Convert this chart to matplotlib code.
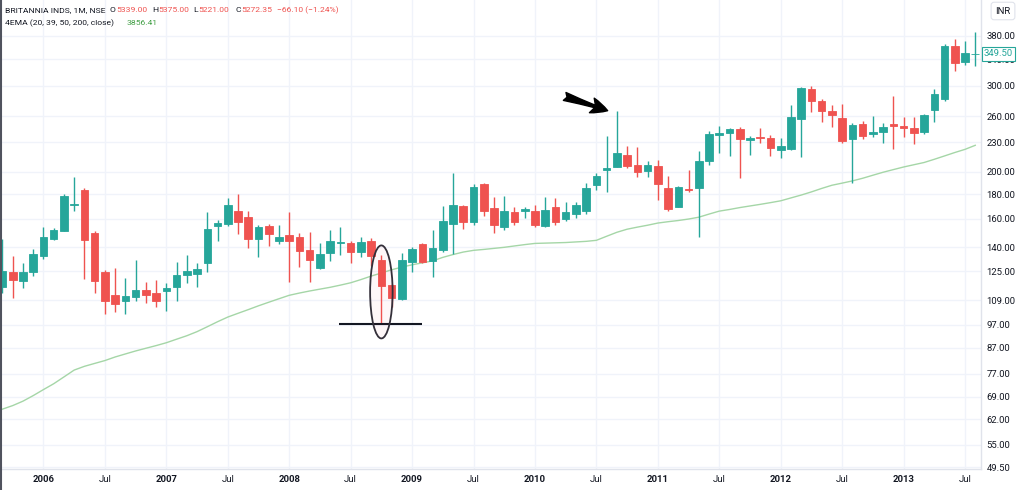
import numpy as np
import pandas as pd
import matplotlib

matplotlib.use('Agg')  # no display here
import matplotlib.pyplot as plt
from matplotlib.patches import Ellipse
from matplotlib.transforms import ScaledTranslation, blended_transform_factory
from matplotlib.ticker import FixedLocator, NullLocator, NullFormatter

plt.rcParams['font.family'] = ['Roboto', 'DejaVu Sans']

# monthly candles, Sep 2005 .. Aug 2013
months = pd.date_range('2005-09-01', periods=96, freq='MS')

opens = [116.1, 124.2, 119.4, 124.6, 134.1, 145.7, 151.3, 170.5, 183.5, 149.6, 124.2, 111.6,
         108.7, 110.7, 114.1, 112.9, 113.6, 115.9, 122.5, 123.6, 129.6, 154.7, 155.9, 166.4,
         161.1, 145.5, 154.9, 144.3, 148.6, 146.9, 137.9, 127.0, 135.9, 143.0, 143.0, 137.0,
         143.9, 131.8, 116.9, 109.5, 130.7, 142.2, 131.1, 138.2, 156.3, 170.3, 157.8, 188.4,
         168.2, 153.7, 165.4, 166.4, 166.4, 154.9, 169.5, 159.9, 163.5, 166.4, 187.8, 201.9,
         204.7, 216.8, 206.4, 200.4, 205.5, 185.5, 169.5, 184.4, 184.9, 210.4, 238.4, 239.9,
         244.7, 232.1, 235.4, 235.0, 221.7, 222.4, 256.3, 295.8, 279.5, 266.9, 257.6, 233.5,
         250.3, 238.6, 241.0, 250.3, 248.3, 245.6, 241.7, 267.8, 282.2, 362.5, 335.6, 349.0]
highs = [145.3, 134.2, 130.0, 138.8, 153.9, 153.1, 179.7, 195.3, 185.2, 151.1, 125.6, 127.0,
         120.8, 131.8, 118.9, 119.7, 118.0, 130.4, 134.6, 129.8, 165.4, 159.1, 176.5, 179.7,
         166.4, 155.4, 155.9, 155.4, 165.4, 149.6, 150.4, 142.6, 151.8, 153.9, 144.1, 146.7,
         146.1, 134.8, 117.6, 136.3, 140.2, 142.6, 151.8, 170.1, 199.2, 170.9, 188.4, 189.7,
         177.7, 178.3, 169.0, 169.0, 170.9, 177.7, 176.5, 173.1, 173.1, 189.3, 198.5, 237.1,
         266.5, 225.9, 225.2, 210.7, 211.4, 196.3, 186.9, 201.6, 220.6, 242.5, 248.3, 246.3,
         246.7, 237.1, 245.5, 237.9, 234.3, 274.2, 297.9, 300.0, 282.2, 274.2, 275.5, 251.5,
         254.2, 260.8, 251.5, 286.6, 259.5, 258.8, 262.3, 295.8, 365.3, 374.2, 371.7, 387.3]
lows = [112.5, 110.1, 115.5, 122.3, 132.3, 145.0, 151.1, 166.4, 120.2, 112.5, 102.0, 103.1,
        102.0, 108.7, 107.5, 105.6, 103.6, 108.7, 118.0, 115.8, 124.6, 144.3, 154.7, 149.3,
        139.6, 133.4, 140.9, 142.2, 118.7, 127.2, 118.7, 126.2, 131.1, 134.8, 130.2, 133.8,
        128.2, 97.3, 105.6, 109.0, 124.6, 129.8, 121.7, 136.9, 135.5, 152.3, 155.4, 162.2,
        149.9, 151.8, 155.4, 160.4, 154.2, 154.2, 155.4, 158.4, 160.4, 163.7, 183.5, 182.0,
        204.2, 203.6, 194.8, 194.8, 175.0, 166.4, 169.0, 182.0, 147.1, 206.9, 218.2, 215.7,
        194.5, 216.4, 229.0, 215.4, 213.7, 221.7, 214.8, 264.7, 253.0, 247.4, 229.1, 189.8,
        233.5, 235.3, 229.0, 222.8, 235.3, 228.3, 238.6, 252.5, 278.8, 322.6, 330.6, 329.8]
closes = [125.2, 119.8, 124.2, 135.5, 146.9, 151.6, 178.0, 171.5, 145.0, 119.1, 108.7, 106.9,
          111.1, 114.1, 111.8, 108.7, 115.3, 123.0, 124.8, 126.2, 152.5, 156.6, 170.6, 157.7,
          145.7, 153.9, 149.1, 146.7, 144.3, 137.5, 131.8, 135.3, 144.3, 143.6, 137.0, 143.3,
          134.4, 116.7, 110.2, 131.8, 138.5, 130.7, 139.2, 158.7, 170.9, 157.8, 185.8, 166.4,
          155.4, 166.4, 157.8, 167.6, 155.4, 166.9, 157.8, 165.4, 170.9, 185.5, 196.0, 203.8,
          218.8, 205.8, 200.0, 206.4, 188.4, 167.4, 185.8, 183.8, 209.9, 238.6, 240.2, 244.4,
          233.5, 234.3, 234.6, 223.4, 225.9, 259.5, 297.2, 279.5, 266.5, 261.5, 231.3, 249.5,
          236.8, 241.0, 247.4, 248.7, 245.6, 239.9, 261.5, 288.9, 362.5, 333.9, 350.9, 349.5]
ema = [65.1, 66.2, 67.6, 69.4, 71.4, 73.4, 75.8, 78.3, 79.7, 80.8, 81.9, 83.3,
       84.5, 85.7, 86.8, 87.9, 89.1, 90.6, 92.1, 93.9, 96.1, 98.4, 100.6, 102.4,
       104.2, 106.1, 107.9, 109.7, 111.5, 112.7, 113.8, 114.8, 115.8, 117.0, 118.3, 120.1,
       122.1, 123.9, 125.8, 127.4, 128.8, 130.0, 131.2, 133.4, 135.2, 136.8, 137.9, 138.5,
       139.2, 139.9, 140.8, 141.7, 142.5, 142.7, 142.9, 143.1, 143.5, 143.9, 144.6, 147.4,
       150.2, 152.4, 153.9, 155.3, 156.9, 157.9, 158.8, 159.9, 161.3, 163.7, 166.0, 167.3,
       168.8, 170.1, 171.4, 172.8, 174.3, 176.7, 179.1, 181.8, 184.8, 187.6, 189.5, 191.5,
       193.9, 196.7, 199.5, 202.0, 204.5, 206.7, 208.9, 212.1, 215.5, 219.0, 222.3, 226.6]

price_ticks = [49.5, 55, 62, 69, 77, 87, 97, 109, 125, 140, 160, 180, 200, 230, 260, 300, 340, 380]

# annotations drawn on the chart
support_level = 97.3
support_span = (32.9, 41.0)
ellipse_center = (37, 113.3)   # Oct 2008 candle
arrow_tail = (54.9, 285.5)
arrow_tip = (59.1, 266.9)

UP = '#26a69a'
DOWN = '#ef5350'
TXT = '#131722'
GRID = '#f0f3fa'

fig = plt.figure(figsize=(10.24, 4.9), dpi=100)
ax = fig.add_axes([0, 21 / 490, 981 / 1024, 469 / 490])
ax.set_yscale('log')

x = np.arange(len(months))
o = np.array(opens); h = np.array(highs); l = np.array(lows); c = np.array(closes)
cols = np.where(c >= o, UP, DOWN)

ax.plot(x, ema, color='#a5d6a7', lw=1.0, zorder=2)
ax.vlines(x, l, h, colors=cols, lw=1.0, zorder=3)
ax.bar(x, np.abs(c - o), bottom=np.minimum(o, c), width=0.74, color=cols,
       edgecolor=cols, linewidth=0.6, zorder=4)

ax.set_xlim(-0.244, 95.56)
ax.set_ylim(49.05, 450.4)

# x ticks: January and July
tick_idx = [i for i, m in enumerate(months) if m.month in (1, 7)]
ax.xaxis.set_major_locator(FixedLocator(tick_idx))
ax.set_xticklabels([str(months[i].year) if months[i].month == 1 else 'Jul' for i in tick_idx])
for lbl, i in zip(ax.get_xticklabels(), tick_idx):
    if months[i].month == 1:
        lbl.set_fontweight('bold')

ax.yaxis.tick_right()
ax.yaxis.set_major_locator(FixedLocator(price_ticks))
ax.set_yticklabels(['%.2f' % v for v in price_ticks])
ax.yaxis.set_minor_locator(NullLocator())
ax.yaxis.set_minor_formatter(NullFormatter())

ax.tick_params(axis='x', length=0, pad=4, labelsize=6.8, labelcolor=TXT)
ax.tick_params(axis='y', length=0, pad=4, labelsize=6.8, labelcolor=TXT)
ax.grid(True, color=GRID, lw=1.0, zorder=0)
ax.set_axisbelow(True)
for side in ('top', 'left'):
    ax.spines[side].set_visible(False)
for side in ('right', 'bottom'):
    ax.spines[side].set_color('#e0e3eb')
    ax.spines[side].set_linewidth(1.0)

# hand drawn markup
ax.hlines(support_level, *support_span, color=TXT, lw=1.5, zorder=6)
ell = Ellipse((0, 0), width=0.225, height=0.93,
              transform=fig.dpi_scale_trans + ScaledTranslation(*ellipse_center, ax.transData),
              facecolor=(0.95, 0.2, 0.3, 0.04), edgecolor='#34303a', lw=1.3, zorder=6)
ax.add_patch(ell)
ax.annotate('', xy=arrow_tip, xytext=arrow_tail,
            arrowprops=dict(arrowstyle='fancy,head_length=0.6,head_width=0.55,tail_width=0.3',
                            color='black', mutation_scale=20, shrinkA=0, shrinkB=0), zorder=7)

# last price tag on the scale (sits over the 340.00 label, as on the original)
ax.text(1.0 + 3 / 981, closes[-1], '%.2f' % closes[-1],
        transform=blended_transform_factory(ax.transAxes, ax.transData),
        ha='left', va='center', fontsize=6.8, color=UP, clip_on=False, zorder=8,
        bbox=dict(boxstyle='square,pad=0.25', fc='white', ec=UP, lw=0.8))

fig.text(1003 / 1024, 1 - 11 / 490, 'INR', ha='center', va='center', fontsize=6.8, color=TXT,
         bbox=dict(boxstyle='round,pad=0.45,rounding_size=0.3', fc='white', ec='#e0e3eb', lw=0.8))

# legend lines at top left
def head(xp, yp, s, color):
    fig.text(xp / 1024, 1 - yp / 490, s, ha='left', va='center', fontsize=6.1, color=color)

head(5, 10, 'BRITANNIA INDS, 1M, NSE', TXT)
head(110, 10, 'O', TXT); head(116, 10, '5339.00', DOWN)
head(152, 10, 'H', TXT); head(158, 10, '5375.00', DOWN)
head(193, 10, 'L', TXT); head(198, 10, '5221.00', DOWN)
head(235, 10, 'C', TXT); head(241, 10, '5272.35', DOWN)
head(277, 10, '\u221266.10 (\u22121.24%)', DOWN)
head(5, 23, '4EMA (20, 39, 50, 200, close)', TXT)
head(127, 23, '3856.41', '#43a047')

fig.add_artist(plt.Line2D([1 / 1024, 1 / 1024], [0, 1], transform=fig.transFigure,
                          color='#50535e', lw=1.5))

fig.savefig('out.png', dpi=100)
